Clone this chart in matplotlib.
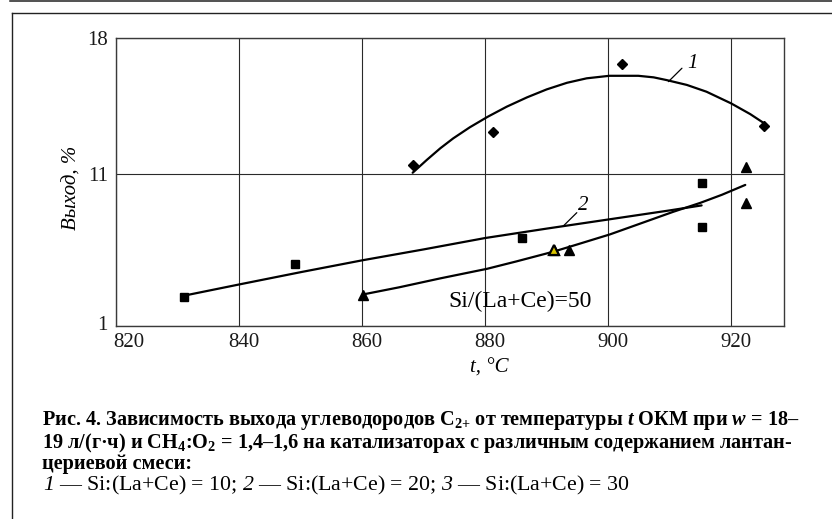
import numpy as np
import matplotlib
matplotlib.use("Agg")
import matplotlib.pyplot as plt
from matplotlib.lines import Line2D
from matplotlib.transforms import ScaledTranslation

# ---- measured yields of C2+ hydrocarbons, % ----
temp_1 = [868.2, 881.2, 902.3, 925.4]
yield_1 = [11.5, 13.2, 16.7, 13.5]

temp_2 = [831.0, 849.0, 886.0, 915.2, 915.2]
yield_2 = [2.9, 5.1, 6.8, 10.45, 7.55]

temp_3 = [860.2, 891.2, 893.7, 922.4, 922.4]
yield_3 = [3.05, 6.0, 6.0, 9.1, 11.4]

# ---- smoothed trend curves ----
trend_t1 = [868.2, 870.5, 872.7, 874.8, 877.5, 880.4, 883.5, 886.8, 890.0,
            893.3, 896.5, 900.2, 904.9, 907.4, 909.5, 912.8, 916.0, 920.0,
            923.1, 925.4]
trend_y1 = [11.08, 11.74, 12.34, 12.85, 13.42, 13.96, 14.48, 14.96, 15.37,
            15.71, 15.94, 16.07, 16.07, 15.99, 15.85, 15.60, 15.25, 14.65,
            14.10, 13.62]

trend_t2 = [831.5, 840.0, 850.0, 860.0, 870.0, 880.0, 890.0, 900.0, 910.0,
            915.2]
trend_y2 = [3.04, 3.74, 4.55, 5.33, 6.05, 6.80, 7.42, 8.02, 8.62, 8.95]

trend_t3 = [860.5, 866.0, 872.7, 880.3, 885.0, 891.1, 895.0, 900.3, 905.0,
            910.6, 915.0, 918.5, 922.3]
trend_y3 = [3.11, 3.55, 4.14, 4.77, 5.25, 5.90, 6.38, 7.04, 7.72, 8.53,
            9.12, 9.65, 10.30]

x_ticks = [820, 840, 860, 880, 900, 920]
y_ticks = [1, 11, 18]

W, H, DPI = 832, 519, 100
SERIF = "Liberation Serif"

plt.rcParams["mathtext.fontset"] = "custom"
plt.rcParams["mathtext.rm"] = "Liberation Serif"
plt.rcParams["mathtext.it"] = "Liberation Serif:italic"
plt.rcParams["mathtext.cal"] = "Liberation Serif:italic"
plt.rcParams["mathtext.bf"] = "Liberation Serif:bold"
plt.rcParams["mathtext.bfit"] = "Liberation Serif:italic:bold"

fig = plt.figure(figsize=(W / DPI, H / DPI), dpi=DPI)


def fx(px):
    return px / W


def fy(py):
    return 1 - py / H


def shift(dx_px, dy_px):
    return ScaledTranslation(dx_px / DPI, dy_px / DPI, fig.dpi_scale_trans)


# the y axis uses two linear segments: 1..11 and 11..18
def y_fwd(y):
    y = np.asarray(y, dtype=float)
    return np.where(y <= 11, (y - 1) * 15.17, 151.7 + (y - 11) * 19.43)


def y_inv(p):
    p = np.asarray(p, dtype=float)
    return np.where(p <= 151.7, p / 15.17 + 1, 11 + (p - 151.7) / 19.43)


ax = fig.add_axes([fx(116.3), fy(326), (784 - 116.3) / W, (326 - 38.3) / H])
ax.set_yscale("function", functions=(y_fwd, y_inv))
ax.set_xlim(820, 928.6)
ax.set_ylim(1, 18)
ax.set_xticks(x_ticks)
ax.set_yticks(y_ticks)
ax.set_xticklabels([str(v) for v in x_ticks])
ax.set_yticklabels([str(v) for v in y_ticks])
ax.minorticks_off()
ax.tick_params(length=0, labelsize=15, colors="#1a1a1a")
ax.tick_params(axis="x", pad=5)
ax.tick_params(axis="y", pad=6)
for lab in ax.get_xticklabels() + ax.get_yticklabels():
    lab.set_family(SERIF)

# x labels sit a little right of their grid lines; the first one more so
for i, lab in enumerate(ax.get_xticklabels()):
    dx = 12.5 if i == 0 else 4.5
    lab.set_transform(lab.get_transform() + shift(dx, 0))
lab1 = ax.get_yticklabels()[0]
lab1.set_transform(lab1.get_transform() + shift(0, 3))

ax.grid(True, color="#2a2a2a", linewidth=0.8)
for s in ax.spines.values():
    s.set_color("#3a3a3a")
    s.set_linewidth(1.0)

line_kw = dict(color="black", linewidth=1.6, solid_capstyle="round",
               solid_joinstyle="round", zorder=3)
ax.plot(trend_t1, trend_y1, **line_kw)
ax.plot(trend_t2, trend_y2, **line_kw)
ax.plot(trend_t3, trend_y3, **line_kw)

ax.plot(temp_1, yield_1, linestyle="none", marker="D", markersize=5.2,
        color="black", zorder=4)
ax.plot(temp_2, yield_2, linestyle="none", marker="s", markersize=6.3,
        color="black", zorder=4)
ax.plot(temp_3, yield_3, linestyle="none", marker="^", markersize=6.8,
        color="black", zorder=4)
# one triangle of series 3 is printed with a yellow fill
ax.plot(temp_3[1], yield_3[1], linestyle="none", marker="^", markersize=6.8,
        markerfacecolor="#d9c400", markeredgecolor="black",
        markeredgewidth=1.6, zorder=5)

# curve numbers with leader strokes
ax.annotate("", xy=(909.8, 15.77), xytext=(912.0, 16.46),
            arrowprops=dict(arrowstyle="-", lw=0.9, color="black",
                            shrinkA=0, shrinkB=0))
ax.text(913.7, 16.68, "1", family=SERIF, style="italic", fontsize=15,
        ha="center", va="center")
ax.annotate("", xy=(892.7, 7.59), xytext=(894.9, 8.47),
            arrowprops=dict(arrowstyle="-", lw=0.9, color="black",
                            shrinkA=0, shrinkB=0))
ax.text(896.0, 8.92, "2", family=SERIF, style="italic", fontsize=15,
        ha="center", va="center")

ax.text(874.0, 2.27, "Si/(La+Ce)=50", family=SERIF, fontsize=17,
        ha="left", va="baseline")

# axis titles
fig.text(fx(72), fy(188), "Выход, %", family=SERIF, style="italic",
         fontsize=15, rotation=90, ha="center", va="center")
fig.text(fx(489), fy(368), "t, °C", family=SERIF, style="italic",
         fontsize=15, ha="center", va="center")

# page rules around the figure
fig.add_artist(Line2D([fx(10), 1], [fy(0.7), fy(0.7)], color="#222",
                      linewidth=1.1, transform=fig.transFigure))
fig.add_artist(Line2D([fx(11.5), 1], [fy(12.7), fy(12.7)], color="#222",
                      linewidth=1.0, transform=fig.transFigure))
fig.add_artist(Line2D([fx(11.5), fx(11.5)], [fy(12.7), 0], color="#222",
                      linewidth=1.0, transform=fig.transFigure))

# caption
cap_bold = [
    "Рис. 4. Зависимость выхода углеводородов C$_{\\mathbf{2{+}}}$ от "
    "температуры $\\mathbfit{t}$ ОКМ при $\\mathbfit{w}$ = 18–",
    "19 л/(г·ч) и CH$_{\\mathbf{4}}$:O$_{\\mathbf{2}}$ = 1,4–1,6 на "
    "катализаторах с различным содержанием лантан-",
    "цериевой смеси:",
]
cap_plain = ("$\\mathcal{1}$ — Si:(La+Ce) = 10; $\\mathcal{2}$ — Si:(La+Ce) = 20; "
             "$\\mathcal{3}$ — Si:(La+Ce) = 30")
baselines = [425, 448, 469, 490]

renderer = fig.canvas.get_renderer()
texts = []
for s, b in zip(cap_bold, baselines[:3]):
    texts.append(fig.text(fx(42), fy(b), s, family=SERIF, fontweight="bold",
                          fontsize=14, ha="left", va="baseline"))
w0 = texts[0].get_window_extent(renderer).width
scale = 760.0 / w0
for t in texts:
    t.set_fontsize(14 * scale)

t4 = fig.text(fx(43), fy(baselines[3]), cap_plain, family=SERIF,
              fontsize=14, ha="left", va="baseline")
w4 = t4.get_window_extent(renderer).width
t4.set_fontsize(14 * 588.0 / w4)

fig.savefig("out.png", dpi=DPI)
